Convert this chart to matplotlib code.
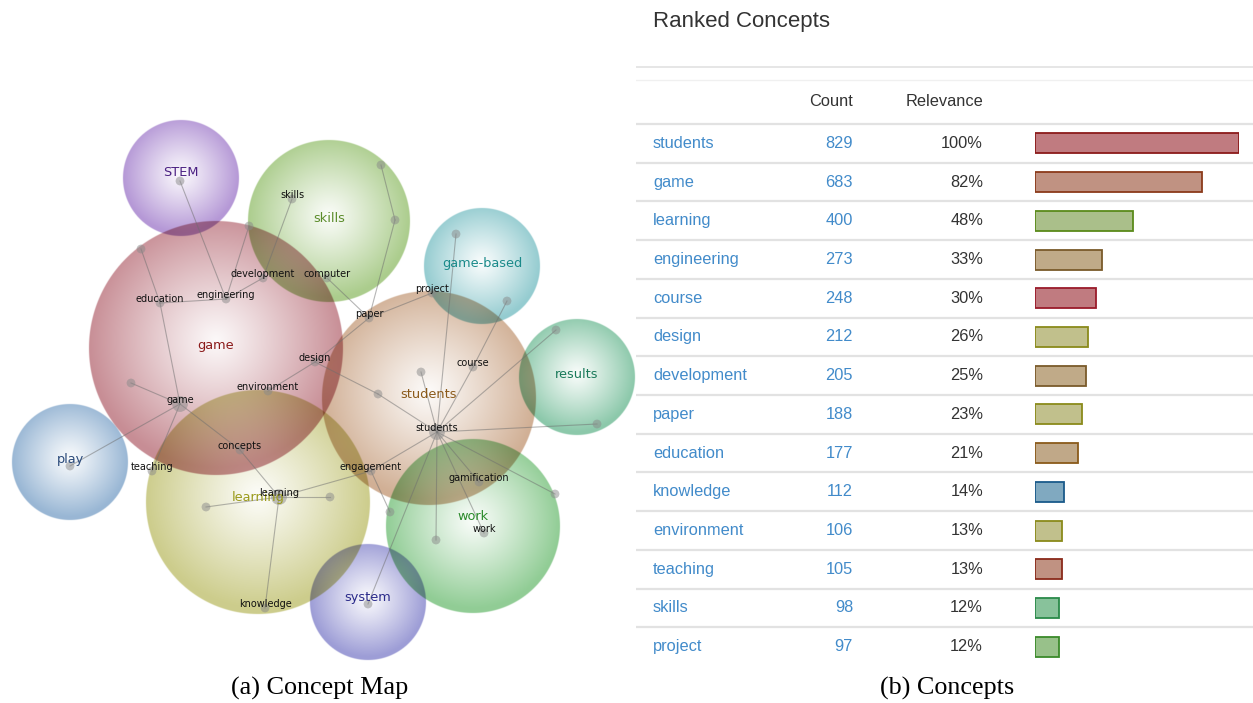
import numpy as np
import matplotlib
matplotlib.use("Agg")
import matplotlib.pyplot as plt

W, H = 1253, 703

# ---- concept map: themes (bubbles) ----
theme_names = ["STEM", "skills", "game-based", "game", "students",
               "results", "play", "learning", "work", "system"]
theme_x = [181, 329, 482, 216, 429, 577, 70, 258, 473, 368]
theme_y = [178, 221, 266, 348, 398, 377, 462, 502, 526, 602]
theme_r = [58, 81, 58, 127, 107, 58, 58, 112, 87, 58]
theme_colors = ["#a886cf", "#9dc479", "#82c3c8", "#be7a83", "#c9a283",
                "#78bf9c", "#87aacd", "#c4c478", "#7ec483", "#8c8ccf"]
theme_text_colors = ["#4b2082", "#5b8c2a", "#1a8a8a", "#8b1a1a", "#8b5a1a",
                     "#1a7a5a", "#2a4a7a", "#9a9a1a", "#2a8a2a", "#2a2a8a"]
theme_label_y = [173, 218, 264, 345, 395, 374, 460, 497, 516, 598]

# ---- concept map: concept nodes ----
node_ids = ["stem", "skills", "s1", "s2", "development", "computer",
            "engineering", "education", "e1", "e2", "project", "paper",
            "design", "course", "environment", "game", "g1", "play",
            "teaching", "concepts", "students", "st1", "st2", "gb1", "gb2",
            "r1", "r2", "w1", "engagement", "en1", "gamification", "work",
            "w2", "system", "learning", "l1", "l2", "knowledge"]
node_x = [180, 292, 381, 395, 263, 327, 226, 160, 141, 249, 432, 369,
          315, 473, 268, 180, 131, 70, 152, 240, 437, 421, 378, 456, 507,
          556, 597, 555, 371, 390, 479, 484, 436, 368, 279, 206, 330, 265]
node_y = [181, 199, 165, 220, 278, 278, 299, 303, 249, 226, 293, 318,
          362, 367, 391, 404, 383, 466, 471, 450, 432, 372, 394, 234, 301,
          330, 424, 494, 471, 512, 482, 533, 540, 604, 497, 507, 497, 608]
node_labels = ["", "skills", "", "", "development", "computer",
               "engineering", "education", "", "", "project", "paper",
               "design", "course", "environment", "game", "", "",
               "teaching", "concepts", "students", "", "", "", "",
               "", "", "", "engagement", "", "gamification", "work",
               "", "", "learning", "", "", "knowledge"]
big_nodes = ["game", "students", "learning"]

links = [("stem", "engineering"), ("engineering", "development"),
         ("engineering", "e2"), ("engineering", "education"),
         ("development", "skills"), ("education", "e1"), ("education", "game"),
         ("game", "g1"), ("game", "play"), ("game", "teaching"),
         ("game", "concepts"), ("concepts", "learning"), ("learning", "l1"),
         ("learning", "l2"), ("learning", "knowledge"),
         ("learning", "engagement"), ("engagement", "students"),
         ("engagement", "en1"), ("environment", "design"),
         ("design", "paper"), ("paper", "project"), ("computer", "paper"),
         ("paper", "s2"), ("s2", "s1"), ("design", "st2"),
         ("st2", "students"), ("students", "st1"), ("students", "gb1"),
         ("students", "course"), ("course", "gb2"), ("students", "r1"),
         ("students", "r2"), ("students", "w1"), ("students", "gamification"),
         ("students", "work"), ("students", "w2"), ("students", "system")]

# ---- ranked concepts table ----
concepts = ["students", "game", "learning", "engineering", "course", "design",
            "development", "paper", "education", "knowledge", "environment",
            "teaching", "skills", "project"]
counts = [829, 683, 400, 273, 248, 212, 205, 188, 177, 112, 106, 105, 98, 97]
relevance = [100, 82, 48, 33, 30, 26, 25, 23, 21, 14, 13, 13, 12, 12]
bar_fill = ["#c07b80", "#c09282", "#aabf8a", "#c0aa88", "#c07b80", "#c1c08c",
            "#c0aa88", "#c1c08c", "#c0a888", "#80a9c0", "#c1c08c", "#c09282",
            "#88c29b", "#98c18a"]
bar_edge = ["#8b1a1a", "#8b3a1a", "#5a8a1a", "#7a5a2a", "#9a1a2a", "#8a8a1a",
            "#7a5a2a", "#8a8a1a", "#8a5a1a", "#1a5a8a", "#8a8a1a", "#8a2a1a",
            "#2a8a4a", "#3a8a2a"]

fig = plt.figure(figsize=(W / 100, H / 100), dpi=100)

# ================= (a) concept map =================
ax = fig.add_axes([0, 0, 640 / W, 1])
ax.set_xlim(0, 640)
ax.set_ylim(H, 0)
ax.axis("off")

# bubbles: radial gradient, multiplied together so overlaps go darker
ss = 2
yy, xx = np.mgrid[0:H * ss, 0:640 * ss]
xx = (xx + 0.5) / ss
yy = (yy + 0.5) / ss
img = np.ones((H * ss, 640 * ss, 3))
for cx, cy, rad, col in zip(theme_x, theme_y, theme_r, theme_colors):
    rgb = np.array(matplotlib.colors.to_rgb(col))
    r = np.hypot(xx - cx, yy - cy + rad * 0.06)
    t = np.clip(r / rad, 0, 1)
    inside = np.clip((rad - np.hypot(xx - cx, yy - cy)) * ss + 0.5, 0, 1)
    f = (0.05 + 0.8 * t ** 1.1) * inside
    img *= 1 - (1 - rgb)[None, None, :] * f[..., None]
ax.imshow(img, extent=(0, 640, H, 0), interpolation="bilinear", zorder=0)

pos = {n: (x, y) for n, x, y in zip(node_ids, node_x, node_y)}
for a, b in links:
    ax.plot([pos[a][0], pos[b][0]], [pos[a][1], pos[b][1]],
            color="#6e6e6e", lw=0.8, alpha=0.5, zorder=2)

sizes = [130 if n in big_nodes else 40 for n in node_ids]
ax.scatter(node_x, node_y, s=sizes, color="#8a8a8a", alpha=0.5,
           edgecolors="none", zorder=3)

for name, x, y, c in zip(theme_names, theme_x, theme_label_y, theme_text_colors):
    ax.text(x, y, name, color=c, fontsize=9.3, ha="center", va="center",
            family="DejaVu Sans", zorder=4)
for lab, x, y in zip(node_labels, node_x, node_y):
    if lab:
        ax.text(x, y - 4, lab, color="#111111", fontsize=7, ha="center",
                va="center", family="DejaVu Sans", zorder=5)

# ================= (b) ranked concepts =================
row_top, row_h = 124, 38.72
rows_y = [row_top + (i + 0.5) * row_h for i in range(len(concepts))]

tab = fig.add_axes([636 / W, 0, 617 / W, 1])
tab.set_xlim(636, W)
tab.set_ylim(H, 0)
tab.axis("off")

sans = "Liberation Sans"
tab.text(653, 22, "Ranked Concepts", fontsize=16, color="#333333",
         ha="left", va="center", family=sans)
tab.axhline(67, color="#e2e2e2", lw=1.2)
tab.axhline(80, color="#f0f0f0", lw=1.0)
tab.text(853, 102, "Count", fontsize=11.8, color="#333333", ha="right",
         va="center", family=sans)
tab.text(983, 102, "Relevance", fontsize=11.8, color="#333333", ha="right",
         va="center", family=sans)
for i in range(len(concepts)):
    tab.axhline(row_top + i * row_h, color="#e2e2e2", lw=1.6)
for name, cnt, rel, y in zip(concepts, counts, relevance, rows_y):
    tab.text(653, y, name, fontsize=11.8, color="#428bca", ha="left",
             va="center", family=sans)
    tab.text(853, y, str(cnt), fontsize=11.8, color="#428bca", ha="right",
             va="center", family=sans)
    tab.text(983, y, f"{rel}%", fontsize=11.8, color="#333333", ha="right",
             va="center", family=sans)

bars = fig.add_axes([1035 / W, 0, 204 / W, 1])
bars.set_xlim(0, 100)
bars.set_ylim(H, 0)
bars.axis("off")
bars.barh(rows_y, relevance, height=20, left=0, color=bar_fill,
          edgecolor=bar_edge, linewidth=1.3)

# captions
fig.text(320 / W, 1 - 688 / H, "(a) Concept Map", fontsize=18.8,
         family="Liberation Serif", ha="center", va="center")
fig.text(947 / W, 1 - 688 / H, "(b) Concepts", fontsize=18.8,
         family="Liberation Serif", ha="center", va="center")

fig.savefig("out.png", dpi=100)
